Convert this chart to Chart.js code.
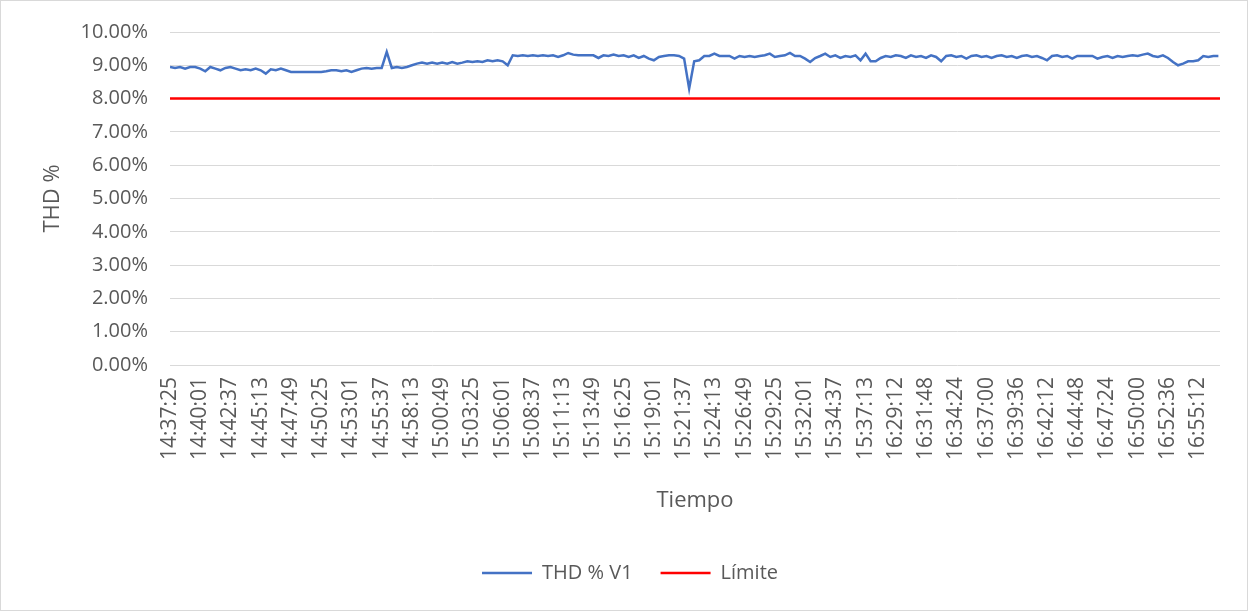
<!DOCTYPE html>
<html lang="es">
<head>
    <meta charset="UTF-8">
    <title>THD % V1</title>
    <script src="https://cdn.jsdelivr.net/npm/chart.js"></script>
    <style>
        body { margin: 0; background: #fff; }
        #wrap { width: 1248px; height: 611px; }
    </style>
</head>
<body>
    <div id="wrap"><canvas id="thdChart" width="1248" height="611"></canvas></div>

    <script>
        // etiquetas del eje X (una cada 6 muestras)
        const etiquetasTiempo = ['14:37:25','14:40:01','14:42:37','14:45:13','14:47:49','14:50:25','14:53:01','14:55:37',
            '14:58:13','15:00:49','15:03:25','15:06:01','15:08:37','15:11:13','15:13:49','15:16:25','15:19:01','15:21:37',
            '15:24:13','15:26:49','15:29:25','15:32:01','15:34:37','15:37:13','16:29:12','16:31:48','16:34:24','16:37:00',
            '16:39:36','16:42:12','16:44:48','16:47:24','16:50:00','16:52:36','16:55:12'];
        const muestrasPorEtiqueta = 6;

        // THD % V1
        const thdV1 = [
            8.95, 8.92, 8.95, 8.9, 8.95, 8.95, 8.9, 8.82, 8.95, 8.9, 8.85, 8.92, 8.95, 8.9, 8.85,
            8.88, 8.85, 8.9, 8.85, 8.75, 8.88, 8.85, 8.9, 8.85, 8.8,
            8.8, 8.8, 8.8, 8.8, 8.8, 8.8, 8.82, 8.85,
            8.85, 8.82, 8.85, 8.8, 8.85, 8.9, 8.92, 8.9, 8.92, 8.92,
            9.4, 8.92, 8.95, 8.92, 8.95, 9.0, 9.05, 9.08, 9.05, 9.08,
            9.05, 9.08, 9.05, 9.1, 9.05, 9.08, 9.12, 9.1, 9.12, 9.1,
            9.15, 9.12, 9.15, 9.12, 9.0, 9.3, 9.28, 9.3, 9.28, 9.3,
            9.28, 9.3, 9.28, 9.3, 9.25, 9.3, 9.37, 9.32, 9.3, 9.3,
            9.3, 9.3, 9.22, 9.3, 9.28, 9.32, 9.28, 9.3, 9.25, 9.3,
            9.22, 9.28, 9.2, 9.15, 9.25, 9.28, 9.3, 9.3, 9.28, 9.2,
            8.3, 9.12, 9.15, 9.28, 9.28, 9.35, 9.28, 9.28, 9.28, 9.2,
            9.28, 9.25, 9.28, 9.25, 9.28, 9.3, 9.35, 9.25, 9.28, 9.3,
            9.37, 9.28, 9.28, 9.2, 9.1, 9.22, 9.28, 9.35, 9.25, 9.3,
            9.22, 9.28, 9.25, 9.3, 9.15, 9.35, 9.12, 9.12, 9.22, 9.28,
            9.25, 9.3, 9.28, 9.22, 9.3, 9.25, 9.28, 9.22, 9.3, 9.25,
            9.12, 9.28, 9.3, 9.25, 9.28, 9.2, 9.28, 9.3, 9.25, 9.28,
            9.22, 9.28, 9.3, 9.25, 9.28, 9.22, 9.28, 9.3, 9.25, 9.28,
            9.22, 9.15, 9.28, 9.3, 9.25, 9.28, 9.2, 9.28, 9.28, 9.28,
            9.28, 9.2, 9.25, 9.28, 9.22, 9.28, 9.25, 9.28, 9.3, 9.28,
            9.32, 9.35, 9.28, 9.25, 9.3, 9.22, 9.1, 9.0, 9.05, 9.12,
            9.12, 9.15, 9.28, 9.25, 9.28, 9.28
        ];
        const limite = 8;
        const yTicks = [0, 1, 2, 3, 4, 5, 6, 7, 8, 9, 10];

        const xMax = 34.72;
        const gris = '#595959';
        const fuente = "'Open Sans', sans-serif";

        const puntosThd = thdV1.map((v, i) => ({ x: i / muestrasPorEtiqueta, y: v }));
        const puntosLimite = [{ x: 0, y: limite }, { x: xMax, y: limite }];

        // marco del gráfico
        const marco = {
            id: 'marco',
            beforeDraw(chart) {
                const c = chart.ctx;
                c.save();
                c.fillStyle = '#fff';
                c.fillRect(0, 0, chart.width, chart.height);
                c.strokeStyle = '#D9D9D9';
                c.lineWidth = 1;
                c.strokeRect(0.5, 0.5, chart.width - 1, chart.height - 1);
                c.restore();
            }
        };

        new Chart(document.getElementById('thdChart'), {
            type: 'line',
            data: {
                datasets: [{
                    label: 'THD % V1',
                    data: puntosThd,
                    borderColor: '#4472C4',
                    backgroundColor: '#4472C4',
                    borderWidth: 2.5,
                    pointRadius: 0,
                    tension: 0
                }, {
                    label: 'Límite',
                    data: puntosLimite,
                    borderColor: '#FF0000',
                    backgroundColor: '#FF0000',
                    borderWidth: 2.5,
                    pointRadius: 0
                }]
            },
            options: {
                responsive: false,
                animation: false,
                layout: { padding: { top: 31, right: 28, left: 40, bottom: 18 } },
                plugins: {
                    legend: {
                        position: 'bottom',
                        labels: {
                            usePointStyle: true,
                            pointStyle: 'line',
                            pointStyleWidth: 50,
                            padding: 28,
                            color: gris,
                            font: { family: fuente, size: 20 }
                        }
                    },
                    tooltip: { enabled: false }
                },
                scales: {
                    x: {
                        type: 'linear',
                        min: 0,
                        max: xMax,
                        afterFit(scale) { scale.height = 170; },
                        grid: { display: false, drawTicks: false },
                        border: { display: false },
                        ticks: {
                            stepSize: 1,
                            includeBounds: false,
                            autoSkip: false,
                            minRotation: 90,
                            maxRotation: 90,
                            padding: 12,
                            color: gris,
                            font: { family: fuente, size: 21 },
                            callback: v => Number.isInteger(v) ? etiquetasTiempo[v] : ''
                        },
                        title: {
                            display: true,
                            text: 'Tiempo',
                            color: gris,
                            padding: { top: 0, bottom: 21 },
                            font: { family: fuente, size: 22 }
                        }
                    },
                    y: {
                        min: yTicks[0],
                        max: yTicks[yTicks.length - 1],
                        afterFit(scale) { scale.width = 130; },
                        grid: { color: '#D9D9D9', lineWidth: 1, drawTicks: false },
                        border: { display: false },
                        ticks: {
                            stepSize: 1,
                            padding: 22,
                            color: gris,
                            font: { family: fuente, size: 20, lineHeight: 1 },
                            callback: v => v.toFixed(2) + '%'
                        },
                        title: {
                            display: true,
                            text: 'THD %',
                            color: gris,
                            padding: { top: 0, bottom: 0 },
                            font: { family: fuente, size: 22 }
                        }
                    }
                }
            },
            plugins: [marco]
        });
    </script>
</body>
</html>
